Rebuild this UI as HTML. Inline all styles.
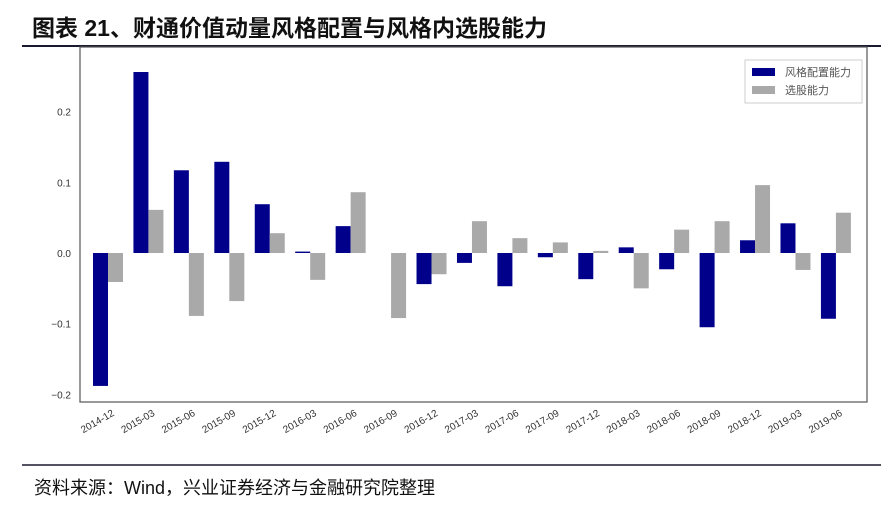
<!DOCTYPE html>
<html><head><meta charset="utf-8"><style>
body{margin:0;background:#fff;width:891px;height:501px;overflow:hidden;font-family:"Liberation Sans","Noto Sans CJK SC",sans-serif}
</style></head><body>
<svg width="891" height="501" xmlns="http://www.w3.org/2000/svg">
<text x="32" y="36" font-size="23" font-weight="bold" fill="#111" font-family="Liberation Sans,Noto Sans CJK SC,sans-serif">图表 21、财通价值动量风格配置与风格内选股能力</text>
<line x1="22" y1="46" x2="881" y2="46" stroke="#1a1a2e" stroke-width="2"/>
<rect x="80" y="47" width="787" height="355" fill="none" stroke="#555" stroke-width="1.2"/>
<g id="bars"></g><g id="yaxis"></g><g id="xaxis"></g>
<g>
<rect x="745" y="60" width="117" height="43" fill="#fff" stroke="#ccc"/>
<rect x="752" y="68" width="23" height="8" fill="#00008b"/>
<text x="785" y="76" font-size="11" fill="#555">风格配置能力</text>
<rect x="752" y="86" width="23" height="8" fill="#a9a9a9"/>
<text x="785" y="94" font-size="11" fill="#555">选股能力</text>
</g>
<line x1="22" y1="465" x2="881" y2="465" stroke="#1a1a2e" stroke-width="1.5"/>
<text x="34" y="494" font-size="18" fill="#111" font-family="Liberation Sans,Noto Sans CJK SC,sans-serif">资料来源：Wind，兴业证券经济与金融研究院整理</text>
</svg>
<script>
const categories=["2014-12","2015-03","2015-06","2015-09","2015-12","2016-03","2016-06","2016-09","2016-12","2017-03","2017-06","2017-09","2017-12","2018-03","2018-06","2018-09","2018-12","2019-03","2019-06"];
const styleValues=[-0.188,0.256,0.117,0.129,0.069,0.002,0.038,0,-0.044,-0.014,-0.047,-0.006,-0.037,0.008,-0.023,-0.105,0.018,0.042,-0.093];
const stockValues=[-0.041,0.061,-0.089,-0.068,0.028,-0.038,0.086,-0.092,-0.030,0.045,0.021,0.015,0.003,-0.050,0.033,0.045,0.096,-0.024,0.057];
const yTicks=[-0.2,-0.1,0.0,0.1,0.2];
const NS="http://www.w3.org/2000/svg";
const y=v=>253-v*707;
const xc=i=>108+i*40.44;
const bw=15;
function mk(tag,attrs,parent){const e=document.createElementNS(NS,tag);for(const k in attrs)e.setAttribute(k,attrs[k]);document.getElementById(parent).appendChild(e);return e;}
categories.forEach((c,i)=>{
 const a=styleValues[i],b=stockValues[i];
 const r1=mk("rect",{x:xc(i)-bw,y:Math.min(y(a),y(0)),width:bw,height:Math.abs(y(a)-y(0)),fill:"#00008b"},"bars");
 
 
 const r2=mk("rect",{x:xc(i),y:Math.min(y(b),y(0)),width:bw,height:Math.abs(y(b)-y(0)),fill:"#a9a9a9"},"bars");
 
 
 const t=mk("text",{x:xc(i)+7,y:415,"font-size":10,fill:"#333","text-anchor":"end",transform:`rotate(-30 ${xc(i)+7} 415)`},"xaxis");
 t.textContent=c;
 
 
});
yTicks.forEach(v=>{
 const t=mk("text",{x:71,y:y(v)+4,"font-size":10,fill:"#333","text-anchor":"end"},"yaxis");
 t.textContent=(v<0?"\u2212":"")+Math.abs(v).toFixed(1);
 
 
});
</script>
</body></html>
